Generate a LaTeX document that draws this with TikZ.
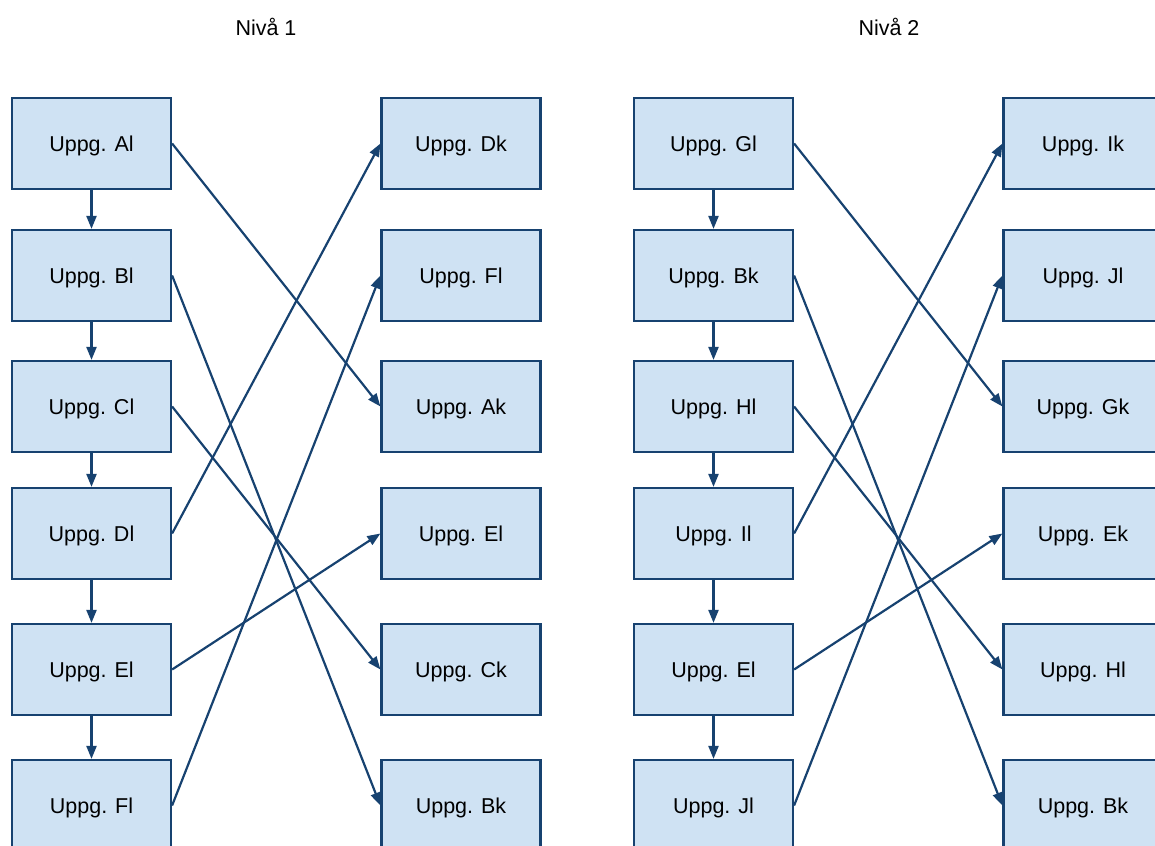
\documentclass[tikz,border=0pt]{standalone}
\usepackage{fontspec}
\setmainfont{Liberation Sans}
\usetikzlibrary{arrows.meta}
\definecolor{boxfill}{HTML}{CFE2F3}
\definecolor{boxline}{HTML}{174270}
\tikzset{
  task/.style={draw=boxline, line width=2.2pt, fill=boxfill, minimum width=159pt, minimum height=91pt, inner sep=0pt, text height=15.5pt, text depth=0pt, font=\fontsize{21.5}{26}\selectfont},
  conn/.style={draw=boxline, line width=2.2pt, -{Triangle[length=13pt,width=10pt]}},
  title/.style={font=\fontsize{21.5}{26}\selectfont}
}
\begin{document}
\begin{tikzpicture}[x=1pt,y=-1pt]
\useasboundingbox (0,0) rectangle (1155,845);
\node[title] (t1) at (266,27) {Nivå 1};
\node[title] (t2) at (889,27) {Nivå 2};
% column 1
\node[task] (al) at (91.5,143.5) {Uppg. Al};
\node[task] (bl) at (91.5,275.5) {Uppg. Bl};
\node[task] (cl) at (91.5,406.5) {Uppg. Cl};
\node[task] (dl) at (91.5,533.5) {Uppg. Dl};
\node[task] (el) at (91.5,669.5) {Uppg. El};
\node[task] (fl) at (91.5,805.5) {Uppg. Fl};
% column 2
\node[task] (dk) at (461,143.5) {Uppg. Dk};
\node[task] (fl2) at (461,275.5) {Uppg. Fl};
\node[task] (ak) at (461,406.5) {Uppg. Ak};
\node[task] (el2) at (461,533.5) {Uppg. El};
\node[task] (ck) at (461,669.5) {Uppg. Ck};
\node[task] (bk) at (461,805.5) {Uppg. Bk};
% column 3
\node[task] (gl) at (713.5,143.5) {Uppg. Gl};
\node[task] (bk3) at (713.5,275.5) {Uppg. Bk};
\node[task] (hl) at (713.5,406.5) {Uppg. Hl};
\node[task] (il) at (713.5,533.5) {Uppg. Il};
\node[task] (el3) at (713.5,669.5) {Uppg. El};
\node[task] (jl) at (713.5,805.5) {Uppg. Jl};
% column 4
\node[task] (ik) at (1083,143.5) {Uppg. Ik};
\node[task] (jl4) at (1083,275.5) {Uppg. Jl};
\node[task] (gk) at (1083,406.5) {Uppg. Gk};
\node[task] (ek) at (1083,533.5) {Uppg. Ek};
\node[task] (hl4) at (1083,669.5) {Uppg. Hl};
\node[task] (bk4) at (1083,805.5) {Uppg. Bk};
% vertical chains
\draw[conn] (al.south) -- (bl.north);
\draw[conn] (bl.south) -- (cl.north);
\draw[conn] (cl.south) -- (dl.north);
\draw[conn] (dl.south) -- (el.north);
\draw[conn] (el.south) -- (fl.north);
\draw[conn] (gl.south) -- (bk3.north);
\draw[conn] (bk3.south) -- (hl.north);
\draw[conn] (hl.south) -- (il.north);
\draw[conn] (il.south) -- (el3.north);
\draw[conn] (el3.south) -- (jl.north);
% level 1 crossings
\draw[conn] (al.east) -- (ak.west);
\draw[conn] (bl.east) -- (bk.west);
\draw[conn] (cl.east) -- (ck.west);
\draw[conn] (dl.east) -- (dk.west);
\draw[conn] (el.east) -- (el2.west);
\draw[conn] (fl.east) -- (fl2.west);
% level 2 crossings
\draw[conn] (gl.east) -- (gk.west);
\draw[conn] (bk3.east) -- (bk4.west);
\draw[conn] (hl.east) -- (hl4.west);
\draw[conn] (il.east) -- (ik.west);
\draw[conn] (el3.east) -- (ek.west);
\draw[conn] (jl.east) -- (jl4.west);
\end{tikzpicture}
\end{document}
